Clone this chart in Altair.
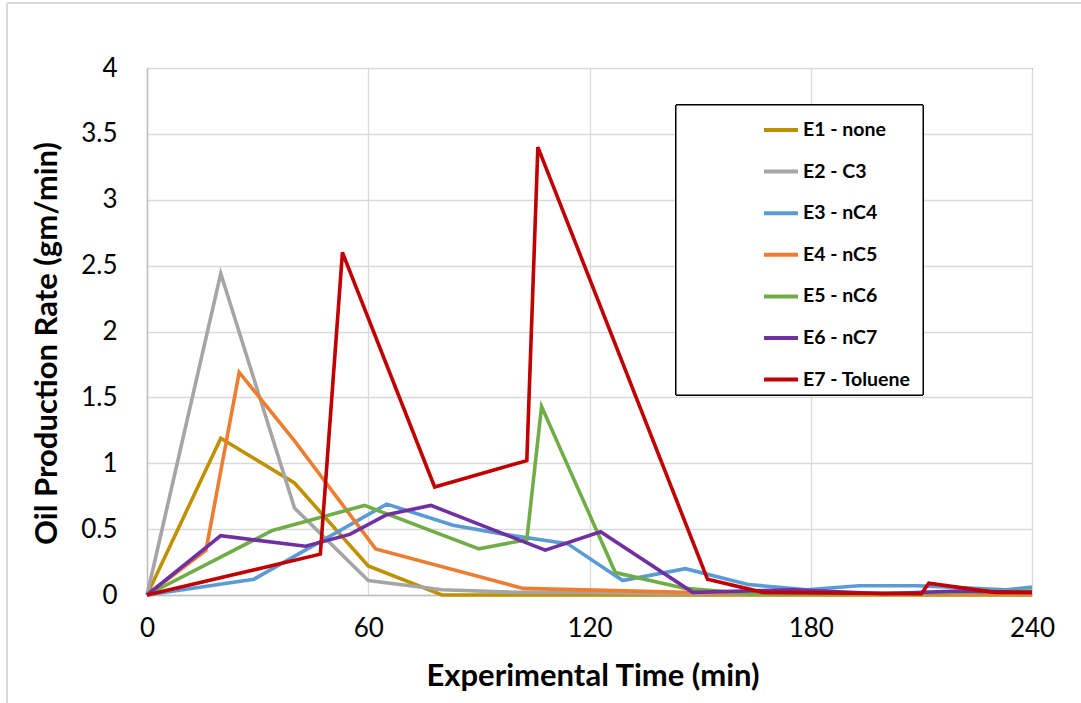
import altair as alt
import pandas as pd

# Oil production rate (gm/min) versus experimental time (min) for each solvent run
series_names = ["E1 - none", "E2 - C3", "E3 - nC4", "E4 - nC5", "E5 - nC6", "E6 - nC7", "E7 - Toluene"]
series_colors = ["#BF9000", "#A5A5A5", "#5B9BD5", "#ED7D31", "#70AD47", "#7030A0", "#C00000"]

e1_time = [0, 20, 40, 60, 80, 100, 120, 140, 160, 180, 200, 220, 240]
e1_rate = [0, 1.19, 0.85, 0.22, 0, 0, 0, 0, 0, 0, 0, 0, 0]

e2_time = [0, 20, 40, 60, 80, 100, 120, 140, 160, 180, 200, 220, 240]
e2_rate = [0, 2.44, 0.66, 0.11, 0.04, 0.02, 0.02, 0.01, 0.01, 0.01, 0.01, 0.01, 0.01]

e3_time = [0, 29, 65, 83, 97, 114, 129, 146, 163, 179, 193, 209, 233, 240]
e3_rate = [0, 0.12, 0.69, 0.53, 0.46, 0.39, 0.11, 0.20, 0.08, 0.04, 0.07, 0.07, 0.04, 0.06]

e4_time = [0, 16, 25, 40, 62, 102, 146, 170, 200, 240]
e4_rate = [0, 0.34, 1.69, 1.17, 0.35, 0.05, 0.02, 0.01, 0.01, 0.01]

e5_time = [0, 34, 59, 90, 103, 107, 127, 146, 164, 190, 215, 240]
e5_rate = [0, 0.49, 0.68, 0.35, 0.42, 1.43, 0.17, 0.05, 0.01, 0.01, 0.02, 0.03]

e6_time = [0, 20, 43, 55, 65, 77, 108, 123, 148, 175, 200, 220, 240]
e6_rate = [0, 0.45, 0.37, 0.46, 0.61, 0.68, 0.34, 0.48, 0.02, 0.04, 0.01, 0.03, 0.02]

e7_time = [0, 47, 53, 78, 103, 106, 152, 167, 210, 212, 230, 240]
e7_rate = [0, 0.31, 2.60, 0.82, 1.02, 3.40, 0.12, 0.02, 0.01, 0.09, 0.02, 0.02]

x_ticks = [0, 60, 120, 180, 240]
y_ticks = [0, 0.5, 1, 1.5, 2, 2.5, 3, 3.5, 4]

runs = [
    (e1_time, e1_rate), (e2_time, e2_rate), (e3_time, e3_rate), (e4_time, e4_rate),
    (e5_time, e5_rate), (e6_time, e6_rate), (e7_time, e7_rate),
]
rows = []
for k, (name, (times, rates)) in enumerate(zip(series_names, runs)):
    for i, (t, r) in enumerate(zip(times, rates)):
        rows.append({"run": name, "order": k, "idx": i, "time": t, "rate": r})
df = pd.DataFrame(rows)

FONT = "Lato"
W, H = 885, 527

lines = alt.Chart(df).mark_line(strokeWidth=3.6, strokeJoin="miter").encode(
    x=alt.X("time:Q", scale=alt.Scale(domain=[0, 240], nice=False),
            axis=alt.Axis(values=x_ticks, title="Experimental Time (min)",
                          titleX=W / 2 + 3, titleY=81, titleBaseline="middle")),
    y=alt.Y("rate:Q", scale=alt.Scale(domain=[0, 4], nice=False),
            axis=alt.Axis(values=y_ticks, format="~g", title="Oil Production Rate (gm/min)",
                          titleX=-100, titleY=275, titleBaseline="middle")),
    color=alt.Color("run:N", scale=alt.Scale(domain=series_names, range=series_colors),
                    legend=alt.Legend(title=None, orient="none", legendX=615, legendY=43)),
    detail="run:N",
    order="idx:Q",
)

# legend frame
frame = alt.Chart(df).mark_rect(fill="white", stroke="black", strokeWidth=1).encode(
    x=alt.value(529), x2=alt.value(776), y=alt.value(37), y2=alt.value(327)
)

# outer chart border (left and top edges)
border_left = alt.Chart(df).mark_rule(color="#D9D9D9", strokeWidth=1.5).encode(
    x=alt.value(-140), y=alt.value(-65), y2=alt.value(H + 108)
)
border_top = alt.Chart(df).mark_rule(color="#D9D9D9", strokeWidth=1.5).encode(
    x=alt.value(-140), x2=alt.value(W + 49), y=alt.value(-65)
)

chart = alt.layer(border_left, border_top, lines, frame).properties(
    width=W, height=H,
    autosize=alt.AutoSizeParams(type="none"),
    padding={"left": 147, "top": 68, "right": 49, "bottom": 108},
    background="white",
).configure_view(
    stroke="black", strokeWidth=1
).configure_axis(
    labelFont=FONT, labelFontSize=26, labelColor="black", labelFlush=False,
    titleFont=FONT, titleFontSize=31, titleFontWeight="bold", titleColor="black",
    grid=True, gridColor="#D9D9D9", gridWidth=1.3,
    domainColor="#BFBFBF", domainWidth=1.5,
    ticks=False,
).configure_axisY(
    labelPadding=30,
).configure_axisX(
    labelPadding=20,
).configure_legend(
    symbolType="stroke", symbolSize=1156, symbolStrokeWidth=4,
    labelFont=FONT, labelFontSize=19.5, labelFontWeight="bold", labelColor="black",
    labelOffset=3, rowPadding=12.6, padding=0,
)

chart.save("out.html", embed_options={"renderer": "svg", "actions": False})
